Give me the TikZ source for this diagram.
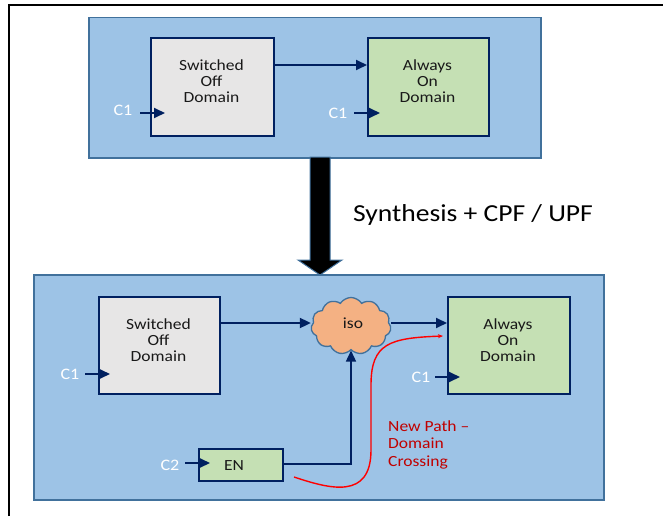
\documentclass[tikz,border=0pt]{standalone}
\usepackage{fontspec}
\setmainfont{Carlito}
\usetikzlibrary{shapes.symbols,arrows.meta}
\definecolor{bluebg}{HTML}{9DC3E6}
\definecolor{blueedge}{HTML}{41719C}
\definecolor{navy}{HTML}{002060}
\definecolor{offgray}{HTML}{E7E6E6}
\definecolor{ongreen}{HTML}{C5E0B4}
\definecolor{isoorange}{HTML}{F4B183}
\definecolor{darkred}{HTML}{C00000}
\newcommand{\wx}[1]{\scalebox{1.13}[1]{#1}}
\newcommand{\wxt}[2][c]{\scalebox{1.13}[1]{\begin{tabular}{@{}#1@{}}#2\end{tabular}}}
\begin{document}
\begin{tikzpicture}[x=1pt,y=-1pt,
  panel/.style={draw=blueedge, fill=bluebg, line width=1.5pt, anchor=north west, inner sep=0pt},
  dombox/.style={draw=navy, line width=2.2pt, anchor=north west, inner sep=0pt},
  dtext/.style={font=\fontsize{15.5}{16}\selectfont, text=black!90, inner sep=0pt},
  clk/.style={text=white, font=\fontsize{16}{18}\selectfont, inner sep=0pt, anchor=base},
  sig/.style={draw=navy, line width=1.8pt, -{Triangle[length=11pt,width=10pt]}},
]
\useasboundingbox (0,0) rectangle (663,516);
% frame
\draw[line width=2pt] (9,516) -- (9,5) -- (663,5);

% ---------- top panel ----------
\node[panel, minimum width=452pt, minimum height=140pt] (top) at (88,17) {};
\node[dombox, fill=offgray, minimum width=123pt, minimum height=98pt] (soff1) at (150,37) {};
\node[dombox, fill=ongreen, minimum width=121pt, minimum height=98pt] (aon1) at (367,37) {};
\node[dtext] (soff1t) at (211.5,83.5) {\wxt{Switched\\Off\\Domain}};
\node[dtext] (aon1t) at (427.5,83.5) {\wxt{Always\\On\\Domain}};
\draw[sig] (soff1.east |- 0,65) -- (aon1.west |- 0,65);
\node[clk] (c1a) at (123,116) {\wx{C1}};
\coordinate (c1aend) at (165,113);
\draw[sig] (140,113) -- (c1aend);
\node[clk] (c1b) at (338,118) {\wx{C1}};
\coordinate (c1bend) at (380,113);
\draw[sig] (354,113) -- (c1bend);

% ---------- bottom panel ----------
\node[panel, minimum width=570pt, minimum height=225pt] (bot) at (33,274) {};
\node[dombox, fill=offgray, minimum width=121pt, minimum height=97pt] (soff2) at (98,296) {};
\node[dombox, fill=ongreen, minimum width=122pt, minimum height=97pt] (aon2) at (447,296) {};
\node[dtext] (soff2t) at (158.5,342.5) {\wxt{Switched\\Off\\Domain}};
\node[dtext] (aon2t) at (508,342.5) {\wxt{Always\\On\\Domain}};
\node[cloud, cloud puffs=11, cloud puff arc=115, aspect=1.45, draw=blueedge, line width=1.3pt,
      fill=isoorange, minimum width=80pt, minimum height=57pt, inner sep=0pt] (iso) at (351,326) {};
\node[dtext] (isot) at (353,323) {\wx{iso}};
\node[dombox, fill=ongreen, minimum width=84pt, minimum height=32pt] (en) at (198,448) {};
\node[dtext] (ent) at (234,466) {\wx{EN}};

\draw[sig] (soff2.east |- 0,323) -- (iso.west |- 0,323);
\draw[sig] (iso.east |- 0,323) -- (aon2.west |- 0,323);
\draw[sig, line width=1.5pt] (en.east |- 0,464) -- (iso.south |- 0,464) -- (iso.south);

\node[clk] (c1c) at (70,379) {\wx{C1}};
\coordinate (c1cend) at (110,374);
\draw[sig] (85,374) -- (c1cend);
\node[clk] (c1d) at (421,382) {\wx{C1}};
\coordinate (c1dend) at (460,377);
\draw[sig] (435,377) -- (c1dend);
\node[clk] (c2) at (170,470) {\wx{C2}};
\coordinate (c2end) at (210,463);
\draw[sig] (185,463) -- (c2end);

% red path
\coordinate (rs) at (294,477);
\coordinate (re) at (443,336);
\draw[red, line width=1.4pt, -{Stealth[length=5pt,width=4pt]}]
  (rs) .. controls (330,489) and (371,500) .. (371,450)
  -- (371,385) .. controls (371,343) and (390,338) .. (re);
\node[dtext, text=darkred, anchor=west] (np) at (388,445)
  {\fontsize{15.5}{17.5}\selectfont\wxt[l]{New Path --\\Domain\\Crossing}};

% big arrow
\draw[fill=black, draw=blueedge, line width=1pt]
  (310,157) -- (330,157) -- (330,260) -- (342,260) -- (320,275) -- (298,260) -- (310,260) -- cycle;
\node[font=\fontsize{24.4}{28}\selectfont, anchor=base, inner sep=0pt] (synth) at (473,221)
  {\wx{Synthesis + CPF / UPF}};
\end{tikzpicture}
\end{document}
